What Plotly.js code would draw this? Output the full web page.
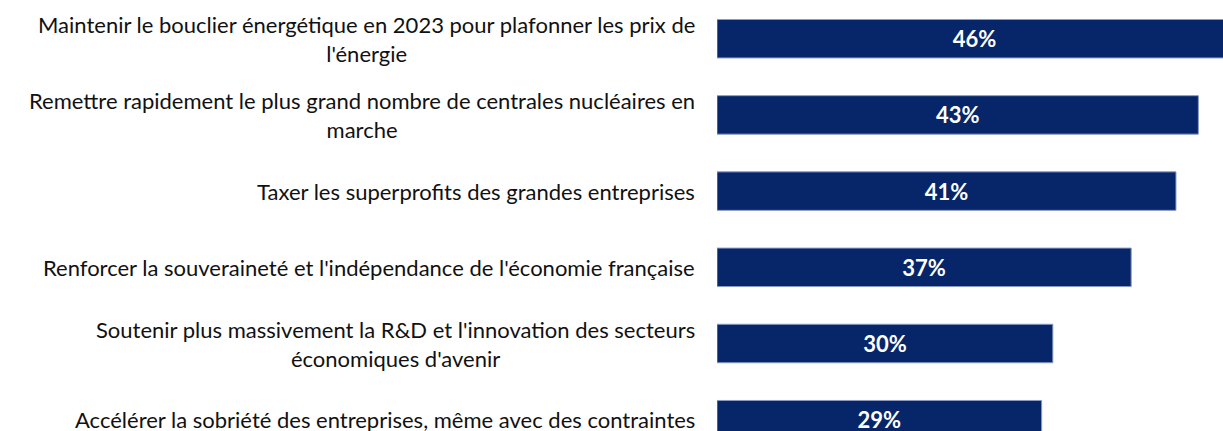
<!DOCTYPE html>
<html>
<head>
<meta charset="utf-8">
<script src="https://cdn.plot.ly/plotly-3.0.1.min.js"></script>
<style>
  html, body { margin: 0; padding: 0; background: #fff; }
  #chart { width: 1223px; height: 431px; }
</style>
</head>
<body>
<div id="chart"></div>
<script>
const labels = [
  "Maintenir le bouclier énergétique en 2023 pour plafonner les prix de<br>l'énergie",
  "Remettre rapidement le plus grand nombre de centrales nucléaires en<br>marche",
  "Taxer les superprofits des grandes entreprises",
  "Renforcer la souveraineté et l'indépendance de l'économie française",
  "Soutenir plus massivement la R&D et l'innovation des secteurs<br>économiques d'avenir",
  "Accélérer la sobriété des entreprises, même avec des contraintes"
];
const values = [46, 43, 41, 37, 30, 29];

const barColor = "#062669";

const trace = {
  type: "bar",
  orientation: "h",
  x: values,
  y: labels,
  text: values.map((v) => v + "%"),
  textposition: "inside",
  insidetextanchor: "middle",
  textangle: 0,
  textfont: { family: "Lato, sans-serif", size: 22, color: "#ffffff", weight: "bold" },
  marker: { color: barColor, line: { color: "#8a9bc4", width: 1 } },
  hoverinfo: "none",
};

// category labels drawn as centred blocks left of the bars
const annotations = labels.map((l) => ({
  xref: "paper",
  yref: "y",
  x: 0,
  y: l,
  xshift: -20,
  xanchor: "right",
  yanchor: "middle",
  align: "center",
  text: l,
  showarrow: false,
  font: { family: "Lato, sans-serif", size: 22, color: "#111111" },
}));

const layout = {
  width: 1223,
  height: 431,
  margin: { l: 717, r: 0, t: 0, b: 0 },
  paper_bgcolor: "#ffffff",
  plot_bgcolor: "#ffffff",
  showlegend: false,
  bargap: 0.495,
  xaxis: { range: [0, 45.2], visible: false, fixedrange: true },
  yaxis: {
    type: "category",
    range: [5.148, -0.508],
    showticklabels: false,
    showgrid: false,
    zeroline: false,
    showline: false,
    ticks: "",
    fixedrange: true,
  },
  annotations,
};

Plotly.newPlot("chart", [trace], layout, { displayModeBar: false, staticPlot: true });
</script>
</body>
</html>
